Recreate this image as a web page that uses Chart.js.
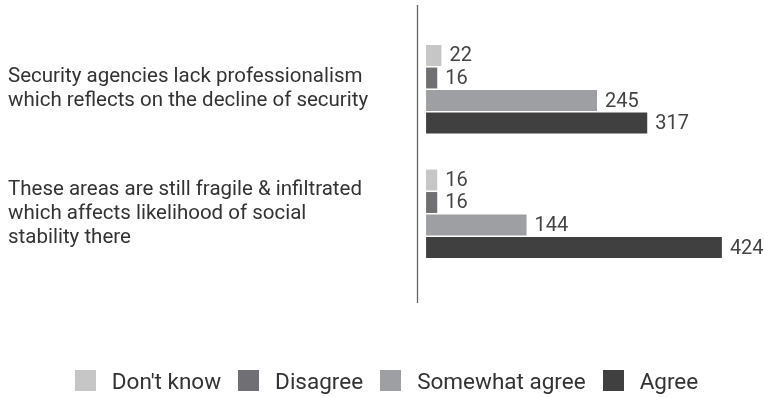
<!DOCTYPE html>
<html>
<head>
<meta charset="utf-8">
<script src="https://cdn.jsdelivr.net/npm/chart.js@4/dist/chart.umd.min.js"></script>
<style>
  html, body { margin: 0; padding: 0; background: #fff; }
  #wrap { position: relative; width: 764px; height: 397px; }
  #legend {
    position: absolute; left: 9px; right: 0; top: 370px; height: 21px;
    display: flex; justify-content: center; align-items: center;
    font-family: Roboto, sans-serif; font-size: 22.5px; color: #333;
  }
  #legend .item { display: flex; align-items: center; margin-right: 17px; }
  #legend .item:last-child { margin-right: 0; }
  #legend .box { width: 21px; height: 21px; margin-right: 16px; }
</style>
</head>
<body>
<div id="wrap">
  <canvas id="chart" width="764" height="397"></canvas>
  <div id="legend"></div>
</div>
<script>
const categories = [
  ["Security agencies lack professionalism", "which reflects on the decline of security"],
  ["These areas are still fragile & infiltrated", "which affects likelihood of social", "stability there"]
];
const seriesNames = ["Don't know", "Disagree", "Somewhat agree", "Agree"];
const dontKnow = [22, 16];
const disagree = [16, 16];
const somewhatAgree = [245, 144];
const agree = [317, 424];
const colors = ["#c6c6c6", "#707074", "#9e9fa2", "#404040"];

const seriesValues = [dontKnow, disagree, somewhatAgree, agree];

// value labels at the end of each bar
const valueLabels = {
  id: "valueLabels",
  afterDatasetsDraw(chart) {
    const ctx = chart.ctx;
    ctx.save();
    ctx.font = "20px Roboto, sans-serif";
    ctx.fillStyle = "#444";
    ctx.textAlign = "left";
    ctx.textBaseline = "middle";
    chart.data.datasets.forEach((ds, i) => {
      chart.getDatasetMeta(i).data.forEach((bar, j) => {
        ctx.fillText(String(ds.data[j]), bar.x + 8, bar.y + 1);
      });
    });
    ctx.restore();
  }
};

// vertical axis line, runs past the plot area like the original
const axisLine = {
  id: "axisLine",
  afterDraw(chart) {
    const { ctx, chartArea } = chart;
    const x = Math.round(chartArea.left) + 0.5;
    ctx.save();
    ctx.strokeStyle = "#666";
    ctx.lineWidth = 1.3;
    ctx.beginPath();
    ctx.moveTo(x, chartArea.top - 22);
    ctx.lineTo(x, chartArea.bottom + 27);
    ctx.stroke();
    ctx.restore();
  }
};

const ctx = document.getElementById("chart").getContext("2d");
new Chart(ctx, {
  type: "bar",
  data: {
    labels: categories,
    datasets: seriesNames.map((name, i) => ({
      label: name,
      data: seriesValues[i],
      backgroundColor: colors[i],
      borderWidth: 0,
      categoryPercentage: 0.723,
      barPercentage: 0.93
    }))
  },
  options: {
    indexAxis: "y",
    responsive: false,
    animation: false,
    layout: { padding: { left: 8, right: 17, top: 27, bottom: 121 } },
    plugins: { legend: { display: false }, tooltip: { enabled: false } },
    scales: {
      x: { display: false, min: -13, max: 460 },
      y: {
        grid: { display: false },
        border: { display: false },
        afterFit(scale) {
          scale.width = 409;
          scale.paddingTop = 0;
          scale.paddingBottom = 0;
        },
        ticks: {
          crossAlign: "far",
          color: "#333",
          font: { family: "Roboto, sans-serif", size: 20.5, lineHeight: 1.16 }
        }
      }
    }
  },
  plugins: [valueLabels, axisLine]
});

const legendEl = document.getElementById("legend");
seriesNames.forEach((name, i) => {
  const item = document.createElement("div");
  item.className = "item";
  const box = document.createElement("span");
  box.className = "box";
  box.style.background = colors[i];
  const txt = document.createElement("span");
  txt.textContent = name;
  item.appendChild(box);
  item.appendChild(txt);
  legendEl.appendChild(item);
});
</script>
</body>
</html>
